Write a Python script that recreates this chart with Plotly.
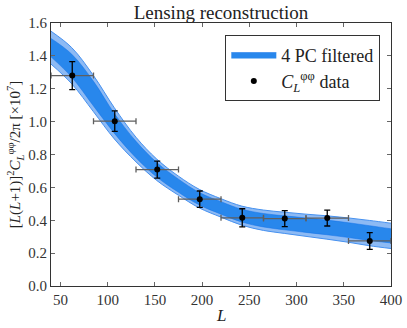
import plotly.graph_objects as go

L_band = [40, 62, 85, 107, 130, 152, 175, 197, 220, 242, 265, 287, 310, 332, 355, 377, 400]
outer_hi = [1.55, 1.45, 1.28, 1.085, 0.905, 0.772, 0.668, 0.588, 0.531, 0.486, 0.462, 0.449, 0.437, 0.427, 0.414, 0.399, 0.382]
inner_hi = [1.506, 1.41, 1.245, 1.05, 0.88, 0.751, 0.65, 0.569, 0.513, 0.467, 0.441, 0.427, 0.414, 0.401, 0.385, 0.367, 0.348]
inner_lo = [1.394, 1.27, 1.095, 0.93, 0.78, 0.663, 0.57, 0.493, 0.437, 0.389, 0.359, 0.342, 0.326, 0.312, 0.295, 0.277, 0.262]
outer_lo = [1.35, 1.23, 1.06, 0.895, 0.755, 0.642, 0.552, 0.475, 0.419, 0.37, 0.338, 0.32, 0.302, 0.285, 0.266, 0.245, 0.228]

# binned data points
L_data = [62.5, 107.5, 152.5, 197.5, 242.5, 287.5, 332.5, 377.5]
cl_data = [1.28, 1.003, 0.708, 0.528, 0.415, 0.41, 0.413, 0.274]
cl_err = [0.085, 0.062, 0.052, 0.05, 0.055, 0.049, 0.048, 0.051]
bin_halfwidth = [22.5, 22.5, 22.5, 22.5, 22.5, 22.5, 22.5, 22.5]

light = "rgba(28,118,234,0.5)"
dark = "rgb(16,112,232)"
edge = "rgb(70,145,240)"

fig = go.Figure()

fig.add_trace(go.Scatter(x=L_band, y=outer_lo, mode="lines", line=dict(color=edge, width=1, shape="spline", smoothing=1.0),
                         showlegend=False, hoverinfo="skip"))
fig.add_trace(go.Scatter(x=L_band, y=outer_hi, mode="lines", line=dict(color=edge, width=1, shape="spline", smoothing=1.0),
                         fill="tonexty", fillcolor=light, showlegend=False, hoverinfo="skip"))
fig.add_trace(go.Scatter(x=L_band, y=inner_lo, mode="lines", line=dict(color=dark, width=0.5, shape="spline", smoothing=1.0),
                         showlegend=False, hoverinfo="skip"))
fig.add_trace(go.Scatter(x=L_band, y=inner_hi, mode="lines", line=dict(color=dark, width=0.5, shape="spline", smoothing=1.0),
                         fill="tonexty", fillcolor="rgb(40,135,236)", name="4 PC filtered", legendgroup="band"))

fig.add_trace(go.Scatter(
    x=L_data, y=cl_data, mode="markers",
    marker=dict(color="black", size=6),
    error_y=dict(type="data", array=cl_err, color="black", thickness=1.3, width=3),
    error_x=dict(type="data", array=bin_halfwidth, color="rgb(95,95,95)", thickness=1.3, width=3),
    name="<i>C</i><sub><i>L</i></sub><sup>φφ</sup> data", legendgroup="data",
))

axis_style = dict(
    showline=True, mirror="ticks", linecolor="#333", linewidth=1.2, automargin=False,
    ticks="inside", ticklen=4, tickcolor="#666", showgrid=False, zeroline=False,
    tickfont=dict(size=15, color="#333"),
)

fig.update_xaxes(range=[40, 400], tick0=50, dtick=50, **axis_style)
fig.update_yaxes(range=[0, 1.6], dtick=0.2, tickformat=".1f",
                 title=dict(text="[<i>L</i>(<i>L</i>+1)]<sup>2</sup><i>C</i><sub><i>L</i></sub><sup>φφ</sup>/2π [×10<sup>7</sup>]",
                            font=dict(size=15), standoff=3),
                 **axis_style)

# x label sits closer to the tick labels than plotly's axis title would
fig.add_annotation(text="<i>L</i>", xref="paper", yref="paper", x=0.5, y=-0.114,
                   yanchor="middle", showarrow=False, font=dict(size=17, color="#222"))

fig.update_layout(
    width=407, height=328,
    margin=dict(l=51, r=16, t=23, b=42),
    paper_bgcolor="white", plot_bgcolor="white",
    font=dict(family="Liberation Serif", color="#222"),
    title=dict(text="Lensing reconstruction", x=0.5, xref="paper", yref="container", y=0.962, yanchor="middle",
               font=dict(size=19, color="#222")),
    legend=dict(x=0.968, y=0.954, xanchor="right", yanchor="top", traceorder="normal",
                bordercolor="#333", borderwidth=1.2, bgcolor="white",
                font=dict(size=18), tracegroupgap=8, itemwidth=45),
    showlegend=True,
)

# page has a default body margin, drop it so the figure sits at the window corner
fig.write_html("out.html", config={"displayModeBar": False},
               post_script="document.body.style.margin='0';")
